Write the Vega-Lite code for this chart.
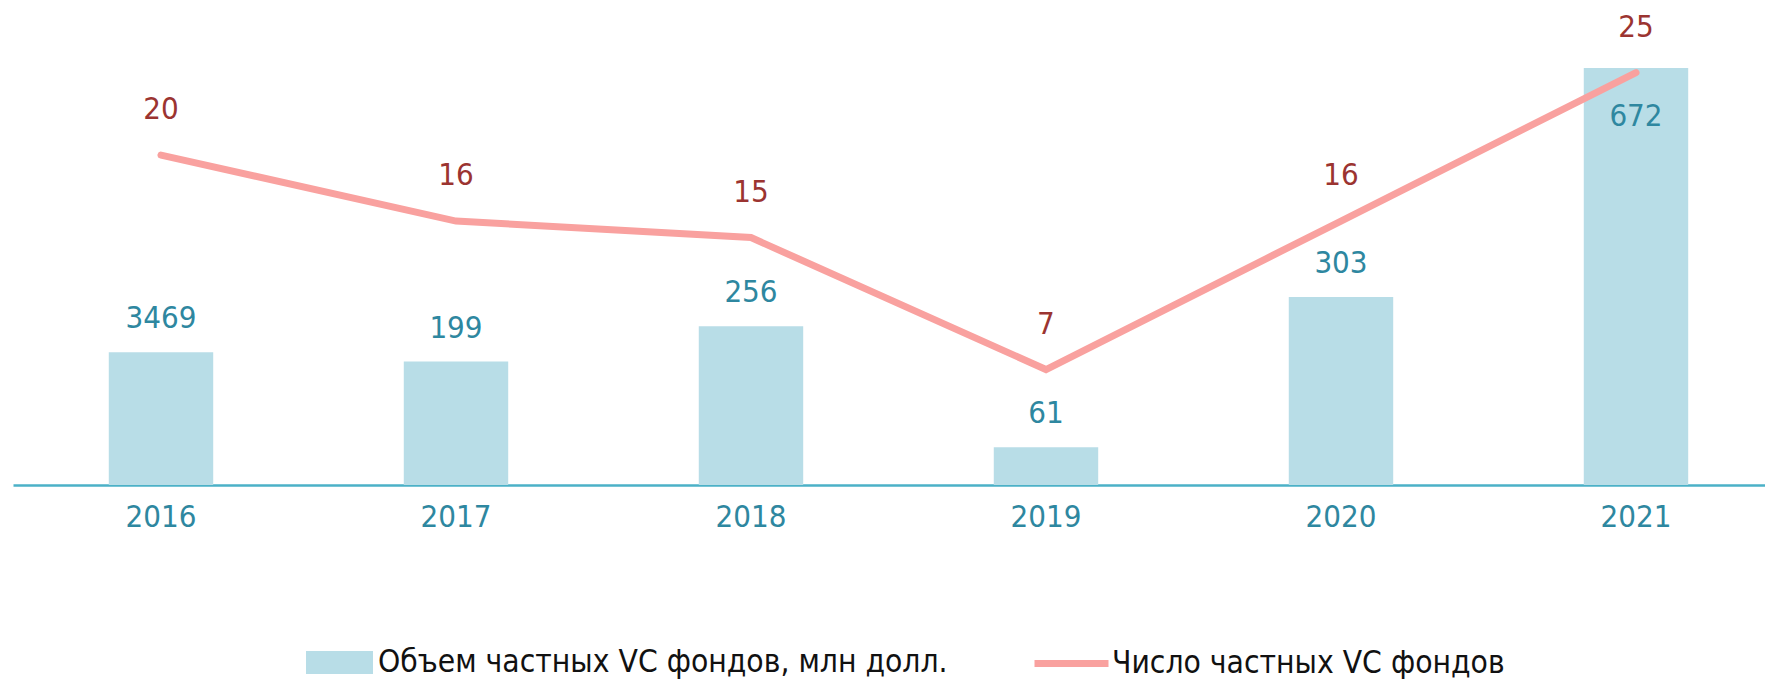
{
  "$schema": "https://vega.github.io/schema/vega-lite/v6.json",
  "width": 1752,
  "height": 485,
  "padding": {"left": 13, "top": 0, "right": 0, "bottom": 0},
  "autosize": {"type": "pad"},
  "background": "white",
  "config": {
    "view": {"stroke": null},
    "font": "Liberation Sans Narrow, DejaVu Sans Condensed, sans-serif"
  },
  "data": {
    "values": [
      {"year": "2016", "volume": 214, "volume_label": "3469", "funds": 20},
      {"year": "2017", "volume": 199, "volume_label": "199", "funds": 16},
      {"year": "2018", "volume": 256, "volume_label": "256", "funds": 15},
      {"year": "2019", "volume": 61, "volume_label": "61", "funds": 7},
      {"year": "2020", "volume": 303, "volume_label": "303", "funds": 16},
      {"year": "2021", "volume": 672, "volume_label": "672", "funds": 25}
    ]
  },
  "encoding": {
    "x": {
      "field": "year",
      "type": "ordinal",
      "scale": {"paddingInner": 0.646, "paddingOuter": 0.2925, "align": 0.555},
      "axis": {
        "title": null,
        "labelAngle": 0,
        "ticks": false,
        "domainColor": "#4bb1c7",
        "domainWidth": 2.5,
        "labelColor": "#2e87a0",
        "labelFontSize": 31,
        "labelPadding": 17,
        "labelFont": "Liberation Sans Narrow, DejaVu Sans Condensed, sans-serif"
      }
    }
  },
  "layer": [
    {
      "mark": {"type": "bar"},
      "encoding": {
        "y": {"field": "volume", "type": "quantitative", "scale": {"domain": [0, 781.6], "nice": false}, "axis": null},
        "color": {
          "datum": "Объем частных VC фондов, млн долл.",
          "type": "nominal",
          "scale": {"range": ["#b8dde7"]},
          "legend": {
            "title": null,
            "orient": "none",
            "legendX": 293,
            "legendY": 629,
            "symbolType": "M-1,-0.343H1V0.343H-1Z",
            "symbolSize": 4489,
            "symbolStrokeWidth": 0,
            "labelFontSize": 31.5,
            "labelColor": "#111111",
            "labelOffset": 5,
            "labelLimit": 800,
            "padding": 0
          }
        }
      }
    },
    {
      "mark": {"type": "line", "strokeWidth": 7, "strokeCap": "round", "strokeJoin": "miter"},
      "encoding": {
        "y": {"field": "funds", "type": "quantitative", "scale": {"domain": [0, 29.4], "nice": false}, "axis": null},
        "stroke": {
          "datum": "Число частных VC фондов",
          "type": "nominal",
          "scale": {"range": ["#f9a19f"]},
          "legend": {
            "title": null,
            "orient": "none",
            "legendX": 1018,
            "legendY": 623,
            "symbolType": "stroke",
            "symbolSize": 5476,
            "symbolStrokeWidth": 7,
            "labelFontSize": 31.5,
            "labelColor": "#111111",
            "labelOffset": 0,
            "labelLimit": 800,
            "padding": 0
          }
        }
      }
    },
    {
      "transform": [{"filter": "datum.year != '2021'"}],
      "mark": {"type": "text", "dy": -33, "fontSize": 31, "color": "#2e87a0", "baseline": "middle"},
      "encoding": {
        "y": {"field": "volume", "type": "quantitative", "scale": {"domain": [0, 781.6], "nice": false}, "axis": null},
        "text": {"field": "volume_label"}
      }
    },
    {
      "transform": [{"filter": "datum.year == '2021'"}],
      "mark": {"type": "text", "dy": 49, "fontSize": 31, "color": "#2e87a0", "baseline": "middle"},
      "encoding": {
        "y": {"field": "volume", "type": "quantitative", "scale": {"domain": [0, 781.6], "nice": false}, "axis": null},
        "text": {"field": "volume_label"}
      }
    },
    {
      "mark": {"type": "text", "dy": -45, "fontSize": 31, "color": "#9b3431", "baseline": "middle"},
      "encoding": {
        "y": {"field": "funds", "type": "quantitative", "scale": {"domain": [0, 29.4], "nice": false}, "axis": null},
        "text": {"field": "funds"}
      }
    }
  ],
  "resolve": {"scale": {"y": "independent"}}
}
